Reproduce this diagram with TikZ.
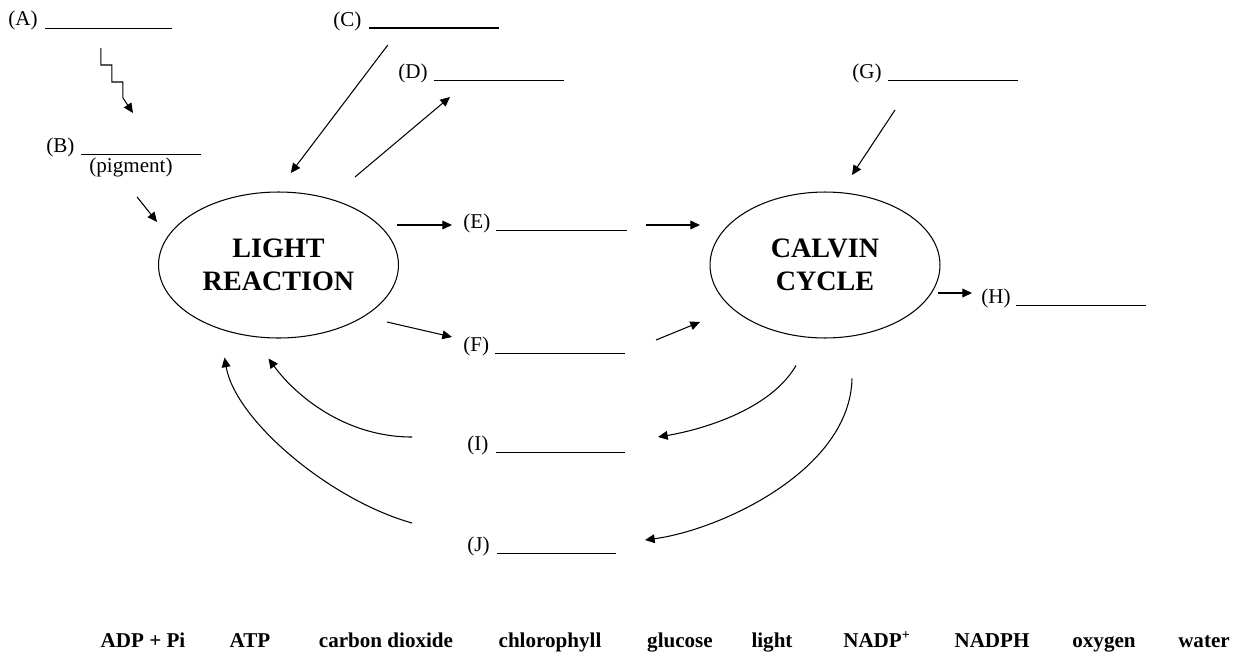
\documentclass[tikz,border=0pt]{standalone}
\usepackage{fontspec}
\setmainfont{Liberation Serif}
\usetikzlibrary{arrows.meta}
\usetikzlibrary{shapes.geometric}

\tikzset{
  lab/.style={font=\fontsize{12}{14}\selectfont, inner sep=0pt, anchor=base west},
  blank/.style={line width=0.55pt},
  arr/.style={-{Triangle[length=5.5pt,width=5pt]}, line width=0.6pt},
  proc/.style={ellipse, draw, line width=0.6pt, minimum width=4.8cm, minimum height=2.92cm,
    inner sep=0pt, align=center, font=\fontsize{16}{18.7}\selectfont\bfseries},
  word/.style={font=\fontsize{12}{14}\selectfont\bfseries, inner sep=0pt, anchor=base},
}

\begin{document}
\begin{tikzpicture}[x=0.02cm, y=-0.02cm]
  \useasboundingbox (0,0) rectangle (1237,656);

  % Define nodes
  \node[proc] (light) at (278.5,265) {LIGHT\\REACTION};
  \node[proc, minimum width=4.6cm] (calvin) at (825,265) {CALVIN\\CYCLE};
  \node[lab] (a) at (8,25) {(A)};
  \node[lab] (b) at (46,152) {(B)};
  \node[lab, anchor=base] (pig) at (131,172) {(pigment)};
  \node[lab] (c) at (333,26) {(C)};
  \node[lab] (d) at (398,78) {(D)};
  \node[lab] (g) at (852,78) {(G)};
  \node[lab] (e) at (463,228) {(E)};
  \node[lab] (f) at (463,351) {(F)};
  \node[lab] (h) at (981,303) {(H)};
  \node[lab] (i) at (467,450) {(I)};
  \node[lab] (j) at (467,551) {(J)};

  % Word list
  \node[word] (adp) at (143,647) {ADP + Pi};
  \node[word] (atp) at (250,647) {ATP};
  \node[word] (co2) at (386,647) {carbon dioxide};
  \node[word] (chl) at (550,647) {chlorophyll};
  \node[word] (glu) at (680,647) {glucose};
  \node[word] (lig) at (772,647) {light};
  \node[word] (nadp) at (877,647) {NADP\textsuperscript{+}};
  \node[word] (nadph) at (992,647) {NADPH};
  \node[word] (oxy) at (1104,647) {oxygen};
  \node[word] (wat) at (1204,647) {water};

  % Blanks
  \draw[blank] ([shift={(7,3)}]a.base east) -- ++(127,0);
  \draw[blank] ([shift={(6,2)}]b.base east) -- ++(120,0);
  \draw[blank, line width=1pt] ([shift={(7,2)}]c.base east) -- ++(130,0);
  \draw[blank] ([shift={(6,2)}]d.base east) -- ++(130,0);
  \draw[blank] ([shift={(6,2)}]g.base east) -- ++(130,0);
  \draw[blank] ([shift={(5,2)}]e.base east) -- ++(131,0);
  \draw[blank] ([shift={(6,2)}]f.base east) -- ++(130,0);
  \draw[blank] ([shift={(5,2)}]h.base east) -- ++(130,0);
  \draw[blank] ([shift={(7,2)}]i.base east) -- ++(129,0);
  \draw[blank] ([shift={(7,2)}]j.base east) -- ++(119,0);

  % Connect the nodes
  \draw[arr] ([shift={(63,23)}]a.base east) -- ++(0,17) -- ++(11,0) -- ++(0,17)
    -- ++(11,0) -- ++(0,16) -- ++(10,15);
  \draw[arr] ([shift={(6,20)}]pig.south) -- ++(20,25);
  \draw[arr] ([shift={(26,19)}]c.base east) -- ++(-97,128);
  \draw[arr] ([shift={(-43,99)}]d.base west) -- ++(95,-80);
  \draw[arr] ([shift={(43,32)}]g.base west) -- ++(-43,65);
  \draw[arr] ([shift={(-66,-3)}]e.base west) -- ++(55,0);
  \draw[arr] ([shift={(183,-3)}]e.base west) -- ++(54,0);
  \draw[arr] ([shift={(-76,-29)}]f.base west) -- ++(65,15);
  \draw[arr] ([shift={(193,-11)}]f.base west) -- ++(44,-18);
  \draw[arr] ([shift={(-43,-10)}]h.base west) -- ++(34,0);
  \draw[arr] ([shift={(-29,27)}]calvin.south) .. controls +(-26,45) and +(42,-7)
    .. ([shift={(191,-13)}]i.base west);
  \draw[arr] ([shift={(27,40)}]calvin.south) .. controls +(-2,92) and +(75,-10)
    .. ([shift={(178,-11)}]j.base west);
  \draw[arr] ([shift={(-55,-13)}]i.base west) .. controls +(-67,0) and +(27,37)
    .. ([shift={(-10,20)}]light.south);
  \draw[arr] ([shift={(-55,-28)}]j.base west) .. controls +(-82,-23) and +(11,63)
    .. ([shift={(-54,19)}]light.south);

\end{tikzpicture}
\end{document}
